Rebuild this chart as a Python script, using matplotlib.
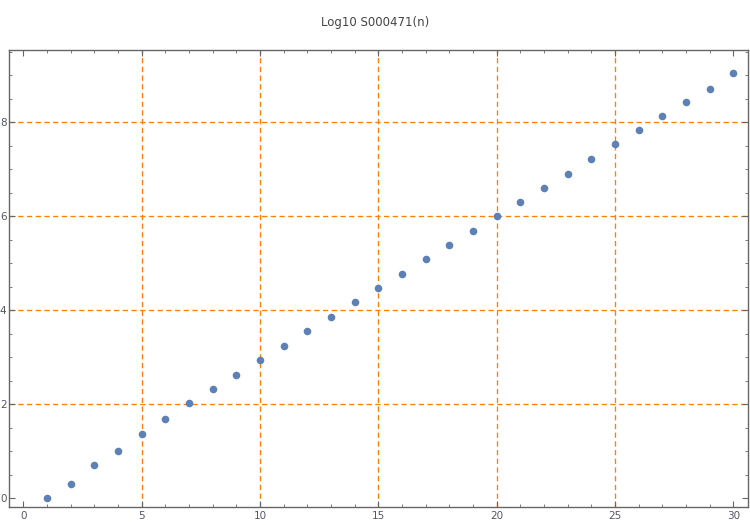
import matplotlib
matplotlib.use("Agg")
import matplotlib.pyplot as plt
from matplotlib.ticker import MultipleLocator

n = list(range(1, 31))
log_vals = [0.00, 0.30, 0.70, 1.00, 1.36, 1.68, 2.02, 2.32, 2.63, 2.94,
            3.24, 3.56, 3.86, 4.17, 4.47, 4.77, 5.09, 5.38, 5.69, 6.00,
            6.31, 6.60, 6.91, 7.21, 7.53, 7.83, 8.13, 8.43, 8.72, 9.04]
x_ticks = [0, 5, 10, 15, 20, 25, 30]
y_ticks = [0, 2, 4, 6, 8]

fig = plt.figure(figsize=(7.5, 5.25), dpi=100)
ax = fig.add_axes([0.0124, 0.0343, 0.9849, 0.8705])

ax.scatter(n, log_vals, s=30, color="#5E81B5", zorder=3, linewidths=0)

ax.set_xlim(-0.59, 30.62)
ax.set_ylim(-0.185, 9.54)
ax.set_xticks(x_ticks)
ax.set_yticks(y_ticks)
ax.xaxis.set_minor_locator(MultipleLocator(1))
ax.yaxis.set_minor_locator(MultipleLocator(0.5))

# orange dashed grid at the labelled ticks (not on the frame)
grid_c = "#FF8000"
for gx in x_ticks[1:-1]:
    ax.axvline(gx, color=grid_c, ls=(0, (4, 2.6)), lw=0.95, zorder=1)
for gy in y_ticks[1:]:
    ax.axhline(gy, color=grid_c, ls=(0, (4, 2.6)), lw=0.95, zorder=1)

frame = "#666666"
for sp in ax.spines.values():
    sp.set_color(frame)
    sp.set_linewidth(1.0)
ax.tick_params(which="both", direction="in", top=True, right=True, color=frame,
               labelcolor="#555566", labelsize=7.5)
ax.tick_params(which="major", length=4)
ax.tick_params(which="minor", length=2.5)
ax.tick_params(axis="y", pad=2)
ax.tick_params(axis="x", pad=3)

fig.text(0.5, 0.957, "Log10 S000471(n)", ha="center", va="center",
         fontsize=8.5, color="#444444")

fig.savefig("out.png", dpi=100)
